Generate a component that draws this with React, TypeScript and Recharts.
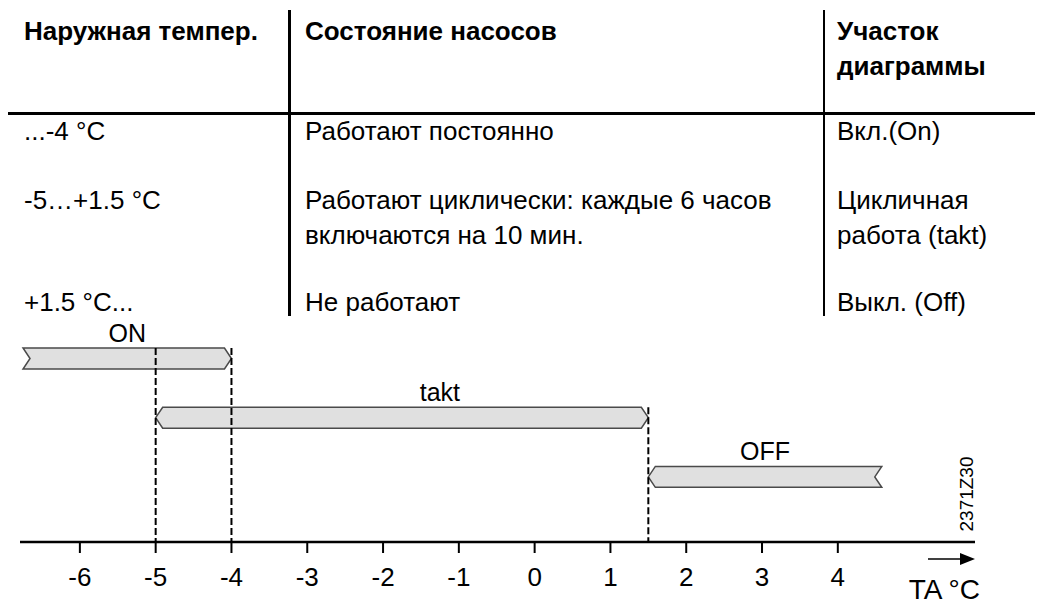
import { ComposedChart, XAxis, YAxis, ReferenceArea, ReferenceLine, ReferenceDot } from "recharts";

const FONT = '"Liberation Sans", Arial, sans-serif';

// table contents
const tableHeaders = ["Наружная темпер.", "Состояние насосов", "Участок\nдиаграммы"];
const tempRanges = ["...-4 °C", "-5…+1.5 °C", "+1.5 °C..."];
const pumpStates = [
  "Работают постоянно",
  "Работают циклически: каждые 6 часов\nвключаются на 10 мин.",
  "Не работают",
];
const sections = ["Вкл.(On)", "Цикличная\nработа (takt)", "Выкл. (Off)"];

// diagram: one bar per pump mode, in °C
const modeNames = ["ON", "takt", "OFF"];
const modeStart = [-6.75, -5, 1.5];
const modeEnd = [-4, 1.5, 4.58];
const openBelow = [true, false, false];
const openAbove = [false, false, true];
const switchPoints = [-5, -4, 1.5];
const axisTicks = [-6, -5, -4, -3, -2, -1, 0, 1, 2, 3, 4];
const figureCode = "2371Z30";

const BAR_HALF = 0.177;
const Y_MIN = -0.1;

const modes = modeNames.map((name, i) => ({
  name,
  start: modeStart[i],
  end: modeEnd[i],
  lo: openBelow[i],
  hi: openAbove[i],
  level: modeNames.length - i,
  // label sits over the part not shared with the row above
  labelAt: (Math.max(modeStart[i], i > 0 ? modeEnd[i - 1] : modeStart[i]) + modeEnd[i]) / 2,
}));

// dashed line goes up to the highest bar that covers the switch point
const lineTop = (v: number) => {
  const row = modes.find((m) => m.start <= v && v <= m.end);
  return (row ? row.level : 1) + BAR_HALF;
};

const modeShape = (lo: boolean, hi: boolean) => (p: any) => {
  const { x, y, width: w, height: h } = p;
  const d = 7;
  const m = y + h / 2;
  const pts: number[][] = [];
  pts.push(lo ? [x, y] : [x + d, y]);
  if (hi) pts.push([x + w, y], [x + w - d, m], [x + w, y + h]);
  else pts.push([x + w - d, y], [x + w, m], [x + w - d, y + h]);
  if (lo) pts.push([x, y + h], [x + d, m]);
  else pts.push([x + d, y + h], [x, m]);
  return (
    <polygon
      points={pts.map((q) => q.join(",")).join(" ")}
      fill="#e0e0e0"
      stroke="#4a4a4a"
      strokeWidth={1.5}
    />
  );
};

const AxisTitle = (props: any) => {
  const { x, y, width } = props.viewBox;
  const r = x + width;
  return (
    <g>
      <line x1={r - 47} y1={y + 17} x2={r - 14} y2={y + 17} stroke="#000" strokeWidth={1.5} />
      <polygon points={`${r - 15},${y + 11} ${r},${y + 17} ${r - 15},${y + 23}`} fill="#000" />
      <text x={r + 5} y={y + 57} textAnchor="end" fontSize={28} fill="#000">
        TA °C
      </text>
      <text
        transform={`translate(${r - 9},${y - 48}) rotate(-90)`}
        textAnchor="middle"
        dominantBaseline="central"
        fontSize={19}
        fill="#000"
      >
        {figureCode}
      </text>
    </g>
  );
};

const Cell = ({ text, left, baseline, bold }: { text: string; left: number; baseline: number; bold?: boolean }) => (
  <div
    style={{
      position: "absolute",
      left,
      top: baseline - 27.5,
      fontSize: 26,
      lineHeight: "35px",
      fontWeight: bold ? 700 : 400,
      whiteSpace: "pre",
      color: "#000",
    }}
  >
    {text}
  </div>
);

const colX = [24, 305, 837];
const rowBase = [141.7, 210, 312];

export default function App() {
  return (
    <div style={{ position: "absolute", left: 0, top: 0, width: 1037, height: 605, fontFamily: FONT, background: "#fff" }}>
      <div style={{ position: "absolute", left: 0, top: 0 }}>
        <ComposedChart width={1037} height={605} margin={{ top: 323, right: 62, bottom: 0, left: 20 }}>
          <XAxis
            type="number"
            dataKey="x"
            domain={[-6.79, 5.81]}
            ticks={axisTicks}
            interval={0}
            height={63}
            tickSize={11}
            tickMargin={15}
            tick={{ fontSize: 26, fill: "#000" }}
            axisLine={{ stroke: "#000", strokeWidth: 2.5 }}
            tickLine={{ stroke: "#000", strokeWidth: 2 }}
            allowDataOverflow
            label={<AxisTitle />}
          />
          <YAxis type="number" hide domain={[Y_MIN, 3.6]} allowDataOverflow />
          {switchPoints.map((v) => (
            <ReferenceLine
              key={v}
              segment={[
                { x: v, y: lineTop(v) },
                { x: v, y: Y_MIN },
              ]}
              stroke="#000"
              strokeWidth={2}
              strokeDasharray="7 3"
            />
          ))}
          {modes.map((m) => (
            <ReferenceArea
              key={m.name}
              x1={m.start}
              x2={m.end}
              y1={m.level - BAR_HALF}
              y2={m.level + BAR_HALF}
              shape={modeShape(m.lo, m.hi)}
            />
          ))}
          {modes.map((m) => (
            <ReferenceDot
              key={"l" + m.name}
              x={m.labelAt}
              y={m.level + BAR_HALF}
              r={0}
              fill="none"
              stroke="none"
              label={{ value: m.name, position: "top", offset: 6, fontSize: 25, fill: "#000" }}
            />
          ))}
        </ComposedChart>
      </div>

      {/* table above the diagram */}
      <div style={{ position: "absolute", left: 8, top: 112, width: 1027, height: 2.5, background: "#000" }} />
      <div style={{ position: "absolute", left: 288, top: 10, width: 2.5, height: 306, background: "#000" }} />
      <div style={{ position: "absolute", left: 822.5, top: 10, width: 2.5, height: 306, background: "#000" }} />
      {tableHeaders.map((t, i) => (
        <Cell key={"h" + i} text={t} left={colX[i]} baseline={41} bold />
      ))}
      {tempRanges.map((t, i) => (
        <Cell key={"t" + i} text={t} left={colX[0]} baseline={rowBase[i]} />
      ))}
      {pumpStates.map((t, i) => (
        <Cell key={"p" + i} text={t} left={colX[1]} baseline={rowBase[i]} />
      ))}
      {sections.map((t, i) => (
        <Cell key={"s" + i} text={t} left={colX[2]} baseline={rowBase[i]} />
      ))}
    </div>
  );
}
